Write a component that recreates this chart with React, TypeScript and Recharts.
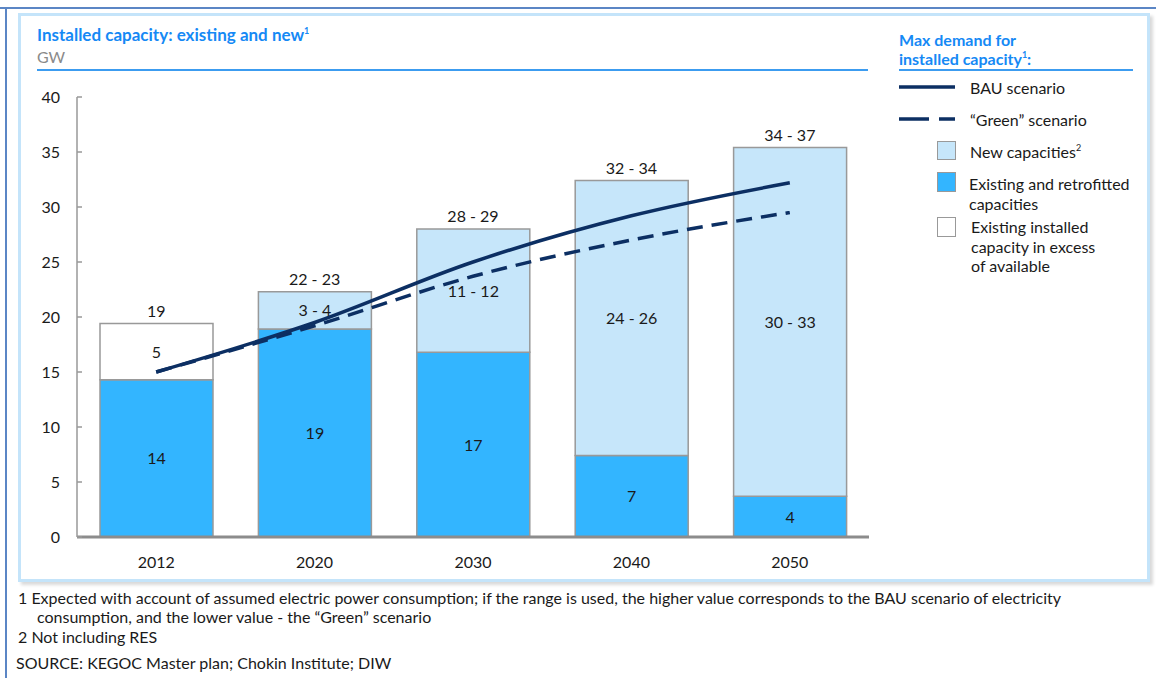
import React from 'react';
import { ComposedChart, Bar, Line, XAxis, YAxis, LabelList } from 'recharts';

// Values, GW
const years = ['2012', '2020', '2030', '2040', '2050'];
const existing = [14.3, 18.9, 16.8, 7.4, 3.7];
const newCapacity = [0, 3.4, 11.2, 25.0, 31.7];
const excess = [5.1, 0, 0, 0, 0];
const bau = [15.0, 19.5, 25.0, 29.2, 32.2];
const green = [15.0, 19.2, 23.7, 27.0, 29.5];

const existingLabels = ['14', '19', '17', '7', '4'];
const newLabels = ['', '3 - 4', '11 - 12', '24 - 26', '30 - 33'];
const excessLabels = ['5', '', '', '', ''];
const totalLabels = ['19', '22 - 23', '28 - 29', '32 - 34', '34 - 37'];
const yTicks = [0, 5, 10, 15, 20, 25, 30, 35, 40];

const data = years.map((year, i) => ({
  year,
  existing: existing[i],
  newCapacity: newCapacity[i],
  excess: excess[i],
  total: existing[i] + newCapacity[i] + excess[i],
  bau: bau[i],
  green: green[i],
  existingLabel: existingLabels[i],
  newLabel: newLabels[i],
  excessLabel: excessLabels[i],
  totalLabel: totalLabels[i],
}));

const FONT = 'Lato, "Open Sans", sans-serif';
const NAVY = '#0c2f63';
const TEXT = '#1a1a1a';

const box = (props: any) => props.viewBox ?? props;

const centerLabel = (props: any) => {
  const { x, y, width, height } = box(props);
  if (!props.value) return null;
  return (
    <text x={x + width / 2} y={y + height / 2} dy={6} textAnchor="middle" fontSize={16} fill={TEXT} fontFamily={FONT}>
      {props.value}
    </text>
  );
};

const topLabel = (props: any) => {
  const { x, y } = box(props);
  return (
    <text x={x} y={y - 7} textAnchor="middle" fontSize={16} fill={TEXT} fontFamily={FONT}>
      {props.value}
    </text>
  );
};

const YTick = (props: any) => {
  const { x, y, payload } = props;
  return (
    <g>
      <line x1={x + 17} x2={x + 22} y1={y} y2={y} stroke="#999" strokeWidth={1.5} />
      <text x={x} y={y} dy={6} textAnchor="end" fontSize={16} fill={TEXT} fontFamily={FONT}>
        {payload.value}
      </text>
    </g>
  );
};

const abs = (left: number, top: number, extra: React.CSSProperties = {}): React.CSSProperties => ({
  position: 'absolute',
  left,
  top,
  whiteSpace: 'nowrap',
  ...extra,
});

const legendText: React.CSSProperties = { fontSize: 16, lineHeight: '19.5px', color: TEXT };
const footText: React.CSSProperties = { fontSize: 16, lineHeight: '19px', color: TEXT };
const sup: React.CSSProperties = { fontSize: 9, verticalAlign: 'top', lineHeight: '12px' };

const App = () => {
  return (
    <div
      style={{
        position: 'absolute',
        left: 0,
        top: 0,
        width: 1156,
        height: 678,
        background: '#fff',
        fontFamily: FONT,
        overflow: 'hidden',
      }}
    >
      {/* outer frame */}
      <div style={abs(0, 7, { width: 1156, height: 2, background: '#5b86c5' })} />
      <div style={abs(5, 7, { width: 2, height: 671, background: '#5b86c5' })} />
      <div
        style={abs(18, 13, {
          width: 1126,
          height: 563,
          border: '3px solid #c4e4fa',
          boxShadow: '3px 3px 3px rgba(0,0,0,0.15)',
        })}
      />

      {/* title */}
      <div style={abs(37, 25, { fontSize: 17, lineHeight: '20px', fontWeight: 700, color: '#1589f5' })}>
        Installed capacity: existing and new<span style={sup}>1</span>
      </div>
      <div style={abs(37, 47, { fontSize: 16, lineHeight: '20px', color: '#8a8a8a' })}>GW</div>
      <div style={abs(37, 69, { width: 831, height: 2, background: '#3c9cf0' })} />

      {/* legend */}
      <div style={abs(899, 30, { fontSize: 16, lineHeight: '19px', fontWeight: 700, color: '#1589f5' })}>
        Max demand for
        <br />
        installed capacity<span style={sup}>1</span>:
      </div>
      <div style={abs(899, 69, { width: 234, height: 2, background: '#3c9cf0' })} />
      <svg style={abs(899, 78, {})} width={60} height={50}>
        <line x1={0} x2={56} y1={9} y2={9} stroke={NAVY} strokeWidth={3.5} />
        <line x1={0} x2={56} y1={41} y2={41} stroke={NAVY} strokeWidth={3.5} strokeDasharray="30 10" />
      </svg>
      <div style={abs(970, 78, legendText)}>BAU scenario</div>
      <div style={abs(970, 110, legendText)}>“Green” scenario</div>
      <div style={abs(937, 141, { width: 17, height: 17, background: '#c6e6fa', border: '1px solid #999' })} />
      <div style={abs(970, 142, legendText)}>
        New capacities<span style={sup}>2</span>
      </div>
      <div style={abs(937, 172, { width: 17, height: 18, background: '#33b5ff', border: '1px solid #999' })} />
      <div style={abs(969, 174, legendText)}>
        Existing and retrofitted
        <br />
        capacities
      </div>
      <div style={abs(937, 217, { width: 17, height: 18, background: '#fff', border: '1px solid #999' })} />
      <div style={abs(971, 217, legendText)}>
        Existing installed
        <br />
        capacity in excess
        <br />
        of available
      </div>

      {/* chart */}
      <div style={abs(0, 0, {})}>
        <ComposedChart
          width={900}
          height={600}
          data={data}
          margin={{ top: 97, right: 31, left: 37, bottom: 33 }}
        >
          <XAxis
            dataKey="year"
            axisLine={{ stroke: '#8c8c8c', strokeWidth: 3 }}
            tickLine={false}
            tickSize={0}
            tickMargin={20}
            height={30}
            tick={{ fontSize: 16, fill: TEXT, fontFamily: FONT }}
          />
          <YAxis
            domain={[0, 40]}
            ticks={yTicks}
            width={40}
            axisLine={{ stroke: '#999', strokeWidth: 1.5 }}
            tickLine={false}
            tickSize={0}
            tickMargin={17}
            tick={<YTick />}
          />
          <Bar dataKey="existing" stackId="a" barSize={113} fill="#33b5ff" stroke="#999" strokeWidth={1.5} isAnimationActive={false}>
            <LabelList dataKey="existingLabel" content={centerLabel} />
          </Bar>
          <Bar dataKey="newCapacity" stackId="a" barSize={113} fill="#c6e6fa" stroke="#999" strokeWidth={1.5} isAnimationActive={false}>
            <LabelList dataKey="newLabel" content={centerLabel} />
          </Bar>
          <Bar dataKey="excess" stackId="a" barSize={113} fill="#ffffff" stroke="#999" strokeWidth={1.5} isAnimationActive={false}>
            <LabelList dataKey="excessLabel" content={centerLabel} />
          </Bar>
          <Line
            dataKey="total"
            stroke="none"
            dot={false}
            activeDot={false}
            legendType="none"
            isAnimationActive={false}
          >
            <LabelList dataKey="totalLabel" content={topLabel} />
          </Line>
          <Line
            dataKey="green"
            type="monotone"
            stroke={NAVY}
            strokeWidth={3.5}
            strokeDasharray="16 9"
            dot={false}
            activeDot={false}
            isAnimationActive={false}
          />
          <Line
            dataKey="bau"
            type="monotone"
            stroke={NAVY}
            strokeWidth={3.5}
            dot={false}
            activeDot={false}
            isAnimationActive={false}
          />
        </ComposedChart>
      </div>

      {/* footnotes */}
      <div style={abs(18, 588, footText)}>
        1 Expected with account of assumed electric power consumption; if the range is used, the higher value corresponds to the BAU scenario of electricity
      </div>
      <div style={abs(37, 607, footText)}>consumption, and the lower value - the “Green” scenario</div>
      <div style={abs(18, 627, footText)}>2 Not including RES</div>
      <div style={abs(16, 653, footText)}>SOURCE: KEGOC Master plan; Chokin Institute; DIW</div>
    </div>
  );
};

export default App;
